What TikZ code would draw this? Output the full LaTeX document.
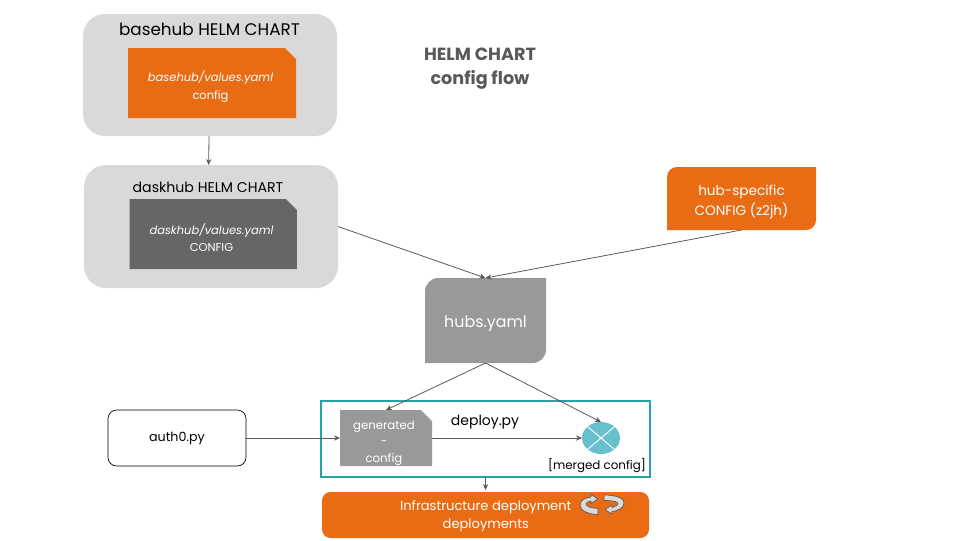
\documentclass[tikz,border=0pt]{standalone}
\usepackage{fontspec}
\setmainfont{Poppins}
\usetikzlibrary{arrows.meta,shapes.geometric}
\definecolor{orangeF}{HTML}{E96C14}
\definecolor{panelG}{HTML}{D9D9D9}
\definecolor{darkG}{HTML}{666666}
\definecolor{midG}{HTML}{999999}
\definecolor{lineG}{HTML}{595959}
\definecolor{tealB}{HTML}{25A3AC}
\definecolor{tealF}{HTML}{67C0CB}
\newcommand{\fs}[2]{\fontsize{#1}{#2}\selectfont}
\newcommand{\snipfill}[2]{\fill[#2] (#1.south west) -- (#1.north west) -- ([xshift=-8.25pt]#1.north east) -- ([yshift=-8.25pt]#1.north east) -- (#1.south east) -- cycle;}
\tikzset{
  x=0.75pt,y=-0.75pt,
  box/.style={rectangle,draw=none,inner sep=0pt,outer sep=0pt},
  panel/.style={box,fill=panelG,rounded corners=16.5pt},
  wtext/.style={text=white,align=center,inner sep=0pt},
  conn/.style={draw=lineG,line width=0.6pt,-{Stealth[length=4.5pt,width=4pt]}},
  recyc/.style={fill=black!15,draw=lineG,line width=0.5pt,line join=round},
}
\begin{document}
\begin{tikzpicture}
\useasboundingbox (0,0) rectangle (960,540);
% panels
\node[panel,minimum width=190.5pt,minimum height=91.5pt] (baseP) at (210,75) {};
\node[panel,minimum width=190.5pt,minimum height=92.25pt] (daskP) at (211,226.5) {};
\node[text=black,font=\fs{12.6pt}{15pt}] (baseT) at (209.5,29) {basehub HELM CHART};
\node[text=black,font=\fs{10.6pt}{13pt}] (daskT) at (208,187) {daskhub HELM CHART};
\node[box,minimum width=126pt,minimum height=52.5pt] (baseC) at (212,83) {};
\snipfill{baseC}{orangeF}
\node[wtext,font=\fs{8.6pt}{13.5pt}] (baseCT) at (210.5,87) {\textit{basehub/values.yaml}\\config};
\node[box,minimum width=125.5pt,minimum height=52.5pt] (daskC) at (213.2,234) {};
\snipfill{daskC}{darkG}
\node[wtext,font=\fs{8.6pt}{13pt}] (daskCT) at (211.5,237.5) {\textit{daskhub/values.yaml}\\CONFIG};
% title
\node[text=lineG,font=\bfseries\fs{13.2pt}{18pt},align=center] (title) at (480,69) {HELM CHART\\config flow};
% hub-specific, hubs.yaml
\node[box,minimum width=111.75pt,minimum height=47.25pt] (spec) at (741.5,198.5) {};
\fill[orangeF,rounded corners=7.5pt] (667,230) [sharp corners] -- (667,198) [rounded corners=7.5pt] -- (667,167) [sharp corners] -- (816,167) -- (816,198) [rounded corners=7.5pt] -- (816,230) [sharp corners] -- cycle;
\node[wtext,font=\fs{10.2pt}{15pt}] (specT) at (741.5,202) {hub-specific\\CONFIG (z2jh)};
\node[box,minimum width=90.75pt,minimum height=63.75pt] (hubs) at (485.5,320.5) {};
\fill[midG,rounded corners=10pt] (425,363) [sharp corners] -- (425,320) [rounded corners=10pt] -- (425,278) [sharp corners] -- (546,278) -- (546,320) [rounded corners=10pt] -- (546,363) [sharp corners] -- cycle;
\node[wtext,font=\fs{11.9pt}{14pt}] (hubsT) at (485.5,323.5) {hubs.yaml};
% deploy area
\node[rectangle,draw=black,line width=0.5pt,rounded corners=6.5pt,minimum width=103.5pt,minimum height=42pt,inner sep=0pt,outer sep=0pt,font=\fs{9.5pt}{11pt}] (auth) at (177,438) {\raisebox{-0.75pt}{auth0.py}};
\node[rectangle,draw=tealB,line width=1.5pt,minimum width=246.75pt,minimum height=57pt,inner sep=0pt,outer sep=0pt] (deploy) at (485.5,438.5) {};
\node[box,minimum width=69pt,minimum height=42pt] (gen) at (386,438) {};
\snipfill{gen}{midG}
\node[wtext,font=\fs{8.8pt}{12.5pt}] (genT) at (384,443) {generated\\-\\config};
\node[font=\fs{10.5pt}{13pt}] (depT) at (485,422) {deploy.py};
\node[ellipse,fill=tealF,minimum width=28.5pt,minimum height=24pt,inner sep=0pt,outer sep=0pt] (merge) at (601,438) {};
\draw[white,line width=0.7pt] (merge.north west) -- (merge.south east) (merge.north east) -- (merge.south west);
\node[font=\fs{8.9pt}{11pt}] (mergeT) at (597,466) {[merged config]};
% infra
\node[box,fill=orangeF,rounded corners=6.5pt,minimum width=245.25pt,minimum height=34.5pt] (infra) at (485.5,515) {};
\node[wtext,font=\fs{9.8pt}{13.5pt}] (infraT) at (485.8,516) {Infrastructure deployment\\deployments};
% recycle icon
\draw[recyc] (598,514.5) .. controls (590,514.5) and (580,511) .. (580,505.5) .. controls (580,500) and (586,497.5) .. (591,497) -- (591,494.5) -- (598,499) -- (591,503.5) -- (591,501) .. controls (588,501) and (586,503) .. (586,504) .. controls (586,506.5) and (591,508) .. (598,508.5) -- cycle;
\draw[recyc] (604,495) .. controls (613,495) and (624,497) .. (624,503) .. controls (624,508.5) and (617,511) .. (612,511.5) -- (612,514) -- (605,509.5) -- (612,505) -- (612,507.5) .. controls (615,507) and (618,505) .. (618,503.5) .. controls (618,501.5) and (612,500.5) .. (604,500.5) -- cycle;
% connectors
\draw[conn] ([xshift=-0.75pt]baseP.south) -- ([xshift=-1.75pt]daskP.north);
\draw[conn] (daskP.east) -- (hubs.north);
\draw[conn] (spec.south) -- (hubs.north);
\draw[conn] (hubs.south) -- (gen.north);
\draw[conn] (hubs.south) -- (merge.north);
\draw[conn] (auth.east) -- (gen.west);
\draw[conn] (gen.east) -- (merge.west);
\draw[conn,shorten >=1.5pt] (deploy.south) -- (infra.north);
\end{tikzpicture}
\end{document}
